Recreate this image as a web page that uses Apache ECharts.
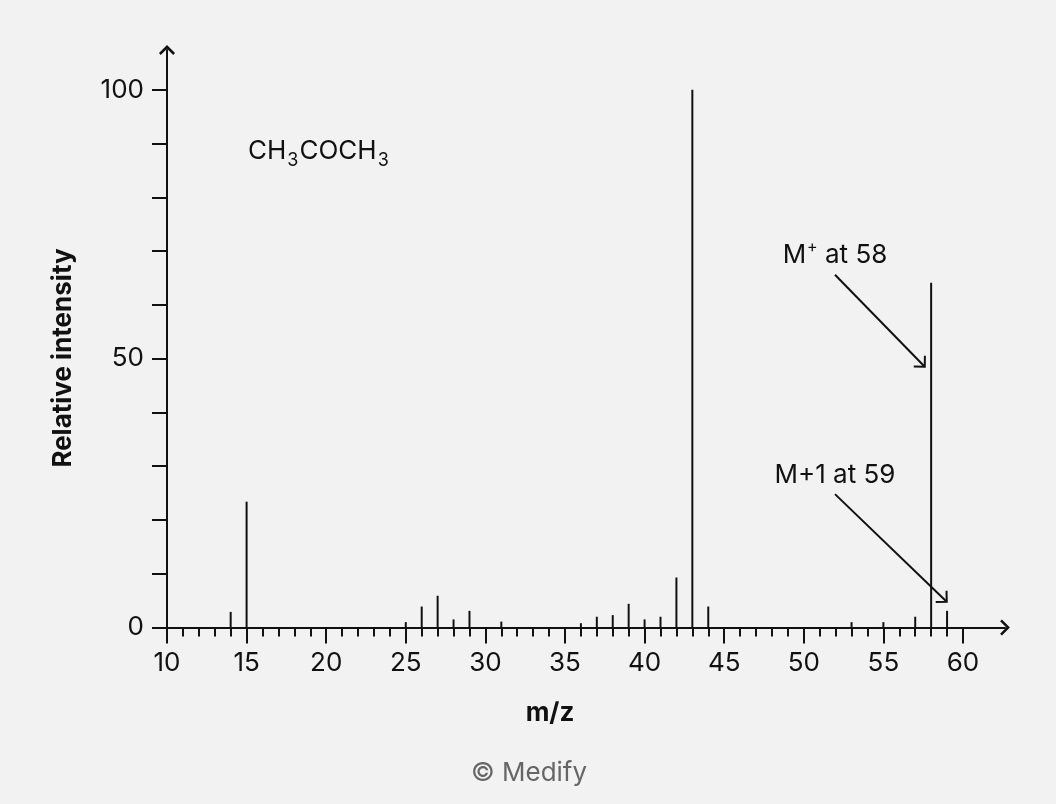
<!DOCTYPE html>
<html>
<head>
<meta charset="utf-8">
<title>Mass spectrum of acetone</title>
<script src="https://cdn.jsdelivr.net/npm/echarts@6/dist/echarts.min.js"></script>
<style>
html, body { margin: 0; padding: 0; background: #f2f2f2; }
#chart { width: 1056px; height: 804px; }
</style>
</head>
<body>
<div id="chart"></div>
<script>
// peaks (m/z, relative intensity)
var mz        = [14, 15, 25, 26, 27, 28, 29, 31, 36, 37, 38, 39, 40, 41, 42, 43, 44, 53, 55, 57, 58, 59];
var intensity = [2.9, 23.4, 1.0, 3.9, 5.9, 1.5, 3.1, 1.1, 0.8, 2.0, 2.3, 4.4, 1.5, 2.0, 9.3, 100, 3.9, 1.0, 1.0, 2.0, 64.1, 3.1];

// axis ticks
var xMinorTicks = [];
for (var t = 10; t <= 60; t++) xMinorTicks.push(t);
var xMajorTicks = [10, 15, 20, 25, 30, 35, 40, 45, 50, 55, 60];
var yTicks      = [0, 10, 20, 30, 40, 50, 60, 70, 80, 90, 100];
var yLabels     = [0, 50, 100];

// annotations: label anchor, arrow start, arrow end (data coords)
var noteText  = ['{a|M}{sup|+}{a| at 58}', '{a|M+1 at 59}'];
var noteAt    = [[51.96, 69.3], [51.96, 28.4]];
var arrowFrom = [[51.96, 65.6], [51.96, 24.8]];
var arrowTo   = [[57.6, 48.5], [58.98, 4.8]];
var formulaAt = [15.09, 88.5];

var ink = '#111';
var font = 'Inter';
var fs = 26;

// open chevron, apex pointing up
var chevron = 'path://M10,0 L20,10 L17.8,12.2 L10,4.4 L2.2,12.2 L0,10 Z';

var peaks = [];
for (var i = 0; i < mz.length; i++) peaks.push([mz[i], intensity[i]]);

var notes = [];
for (var j = 0; j < noteAt.length; j++) {
	notes.push([arrowFrom[j][0], arrowFrom[j][1], arrowTo[j][0], arrowTo[j][1], noteAt[j][0], noteAt[j][1], j]);
}

function drawNote(params, api) {
	var p1 = api.coord([api.value(0), api.value(1)]);
	var p2 = api.coord([api.value(2), api.value(3)]);
	var pl = api.coord([api.value(4), api.value(5)]);
	var k = api.value(6);
	var ang = Math.atan2(p2[1] - p1[1], p2[0] - p1[0]);
	var len = 11;
	var a1 = ang + Math.PI - Math.PI / 4;
	var a2 = ang + Math.PI + Math.PI / 4;
	var style = { stroke: ink, lineWidth: 2, fill: null };
	return {
		type: 'group',
		children: [{
			type: 'line',
			shape: { x1: p1[0], y1: p1[1], x2: p2[0], y2: p2[1] },
			style: style
		}, {
			type: 'polyline',
			shape: { points: [
				[p2[0] + len * Math.cos(a1), p2[1] + len * Math.sin(a1)],
				p2,
				[p2[0] + len * Math.cos(a2), p2[1] + len * Math.sin(a2)]
			] },
			style: style
		}, {
			type: 'text',
			x: pl[0], y: pl[1],
			style: {
				text: noteText[k],
				align: 'center', verticalAlign: 'middle',
				rich: {
					a: { fontSize: fs, fontFamily: font, fill: ink },
					sup: { fontSize: 16, fontFamily: font, fill: ink, padding: [0, 0, 16, 1] }
				}
			}
		}]
	};
}

function drawFormula(params, api) {
	var p = api.coord([api.value(0), api.value(1)]);
	return {
		type: 'text',
		x: p[0], y: p[1],
		style: {
			text: '{a|CH}{sub|3}{a|COCH}{sub|3}',
			align: 'left', verticalAlign: 'middle',
			rich: {
				a: { fontSize: fs, fontFamily: font, fill: ink },
				sub: { fontSize: 18, fontFamily: font, fill: ink, padding: [17, 1, 0, 1] }
			}
		}
	};
}

var chart = echarts.init(document.getElementById('chart'));
chart.setOption({
	backgroundColor: '#f2f2f2',
	animation: false,
	grid: { left: 167, right: 51, top: 50, bottom: 176.5 },
	xAxis: [{
		type: 'value',
		min: 10, max: 62.64,
		splitLine: { show: false },
		axisLine: {
			show: true,
			lineStyle: { color: ink, width: 2 },
			symbol: ['none', chevron],
			symbolSize: [16, 10]
		},
		axisTick: { show: true, customValues: xMajorTicks, length: 16, lineStyle: { color: ink, width: 2 } },
		axisLabel: { customValues: xMajorTicks, margin: 23, fontSize: fs, fontFamily: font, color: ink }
	}, {
		type: 'value',
		position: 'bottom',
		min: 10, max: 62.64,
		splitLine: { show: false },
		axisLine: { show: false },
		axisTick: { show: true, customValues: xMinorTicks, length: 9, lineStyle: { color: ink, width: 2 } },
		axisLabel: { show: false }
	}],
	yAxis: {
		type: 'value',
		min: 0, max: 107.4,
		splitLine: { show: false },
		axisLine: {
			show: true,
			lineStyle: { color: ink, width: 2 },
			symbol: ['none', chevron],
			symbolSize: [16, 10]
		},
		axisTick: { show: true, customValues: yTicks, length: 15, lineStyle: { color: ink, width: 2 } },
		axisLabel: { customValues: yLabels, margin: 23, fontSize: fs, fontFamily: font, color: ink }
	},
	graphic: [{
		type: 'text', x: 63, y: 358, rotation: Math.PI / 2,
		style: { text: 'Relative intensity', align: 'center', verticalAlign: 'middle',
			font: 'bold 26px Inter', fill: ink }
	}, {
		type: 'text', x: 550, y: 713,
		style: { text: 'm/z', align: 'center', verticalAlign: 'middle',
			font: 'bold 26px Inter', fill: ink }
	}, {
		type: 'text', x: 529, y: 773,
		style: { text: '\u00a9 Medify', align: 'center', verticalAlign: 'middle',
			font: '26px Inter', fill: '#666' }
	}],
	series: [{
		type: 'bar',
		xAxisIndex: 0,
		barWidth: 2,
		itemStyle: { color: ink },
		data: peaks
	}, {
		type: 'custom',
		xAxisIndex: 0,
		renderItem: drawNote,
		data: notes,
		silent: true
	}, {
		type: 'custom',
		xAxisIndex: 0,
		renderItem: drawFormula,
		data: [formulaAt],
		silent: true
	}]
});
</script>
</body>
</html>
